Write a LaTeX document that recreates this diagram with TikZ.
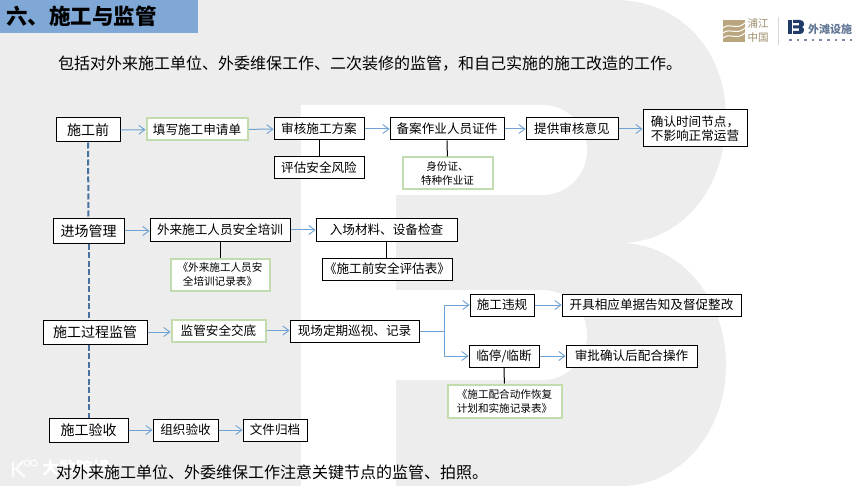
\documentclass[tikz,border=0pt]{standalone}
\usepackage{fontspec}
\setmainfont{Noto Sans CJK SC}
\usetikzlibrary{arrows.meta}
\definecolor{bggray}{HTML}{EDEDED}
\definecolor{titleblue}{HTML}{7FA8D6}
\definecolor{flowblue}{HTML}{6EA2D2}
\definecolor{spineblue}{HTML}{47729E}
\definecolor{softgreen}{HTML}{C3DCAE}
\definecolor{logotan}{HTML}{B9A67E}
\definecolor{logonavy}{HTML}{1F3C68}
\tikzset{
  x=1pt,y=-1pt,
  boxbase/.style={fill=white,inner sep=0pt,align=center,font=\fontsize{12.6pt}{14.5pt}\selectfont},
  plainbox/.style={boxbase,draw=black,line width=1pt},
  headbox/.style={plainbox,font=\fontsize{14pt}{16pt}\selectfont},
  greenbox/.style={boxbase,draw=softgreen,line width=2pt},
  notebox/.style={greenbox,font=\fontsize{10.6pt}{14pt}\selectfont},
  flow/.style={draw=flowblue,line width=1pt,-{Straight Barb[length=6pt,width=9pt,line width=.9pt]}},
  tie/.style={draw=black,line width=1pt},
  spine/.style={draw=spineblue,line width=2pt,dash pattern=on 6pt off 2.5pt},
  bodytext/.style={anchor=west,inner sep=0pt,font=\fontsize{16pt}{18pt}\selectfont}
}
\begin{document}
\begin{tikzpicture}
\useasboundingbox (0,0) rectangle (861,486);
% background B
\fill[white] (0,0) rectangle (861,486);
\fill[bggray] (0,0) -- (615,0) .. controls (680,0) and (726,50) .. (726,118)
  .. controls (726,190) and (680,243) .. (620,243)
  .. controls (680,243) and (726,298) .. (726,365)
  .. controls (726,432) and (680,486) .. (620,486) -- (0,486) -- cycle;
\fill[white] (301,105) -- (542,105) .. controls (567,105) and (587,125) .. (587,150)
  .. controls (587,175) and (567,195) .. (542,195) -- (396,195) -- (396,290)
  -- (542,290) .. controls (567,290) and (587,310) .. (587,335)
  .. controls (587,360) and (567,380) .. (542,380) -- (396,380) -- (396,486) -- (301,486) -- cycle;
% title
\fill[titleblue] (0,0) rectangle (198,33);
\node[anchor=west,inner sep=0pt,font=\fontsize{21.5pt}{24pt}\selectfont\bfseries] (title) at (6,16) {六、施工与监管};
% logo
\fill[logotan] (723,20) rectangle (745,42);
\foreach \d in {26,31,36}{
  \draw[white,line width=1pt] (723,\d+2) .. controls (730,\d-4) and (736,\d+5) .. (745,\d-3);
}
\node[inner sep=0pt,align=center,text=logotan!85!black,font=\fontsize{10.5pt}{14pt}\selectfont] (logoa) at (758,31) {浦江\\中国};
\draw[black!15,line width=1pt] (778,17) -- (778,45);
\fill[logonavy] (788,20) rectangle (791.5,34);
\fill[logonavy] (793,20) -- (800,20) .. controls (805,20) and (805,26.5) .. (802,27) .. controls (805,27.5) and (805,34) .. (800,34) -- (793,34) -- (793,31) -- (799,31) -- (799,28.5) -- (793,28.5) -- (793,25.5) -- (799,25.5) -- (799,23) -- (793,23) -- cycle;
\node[anchor=west,inner sep=0pt,text=logonavy!70,font=\fontsize{11pt}{12pt}\selectfont\bfseries] (logob) at (808,29) {外滩设施};
\foreach \i in {0,...,8}{\fill[logonavy!60] (789+\i*7.6,39) rectangle (791.5+\i*7.6,41.5);}
% texts
\node[bodytext] (intro) at (58,64) {包括对外来施工单位、外委维保工作、二次装修的监管，和自己实施的施工改造的工作。};
% watermark
\draw[white,line width=2.4pt,opacity=.85] (13,462) -- (13,477) (23,461) -- (16,469) -- (25,477);
\draw[white,line width=1.2pt,opacity=.85] (27,463) circle[radius=3] (34,463) circle[radius=3];
\node[anchor=west,inner sep=0pt,text=white,font=\fontsize{17pt}{18pt}\selectfont\bfseries] (mark) at (42,468) {大数跨境};
\node[bodytext] (closing) at (56,472) {对外来施工单位、外委维保工作注意关键节点的监管、拍照。};
% row 1
\node[headbox,minimum width=64pt,minimum height=24pt] (pre) at (88,130) {施工前};
\node[greenbox,minimum width=101pt,minimum height=22pt] (apply) at (197,129.5) {填写施工申请单};
\node[plainbox,minimum width=90pt,minimum height=22pt] (plan) at (319,129) {审核施工方案};
\node[plainbox,minimum width=114pt,minimum height=22pt] (file) at (447,129) {备案作业人员证件};
\node[plainbox,minimum width=92pt,minimum height=22pt] (opin) at (572,129) {提供审核意见};
\node[plainbox,minimum width=104pt,minimum height=37pt] (time) at (695,128.5) {确认时间节点，\\不影响正常运营};
\node[plainbox,minimum width=90pt,minimum height=22pt] (risk) at (319,168) {评估安全风险};
\node[notebox,minimum width=90pt,minimum height=32pt] (ids) at (447.5,173.5) {身份证、\\特种作业证};
% row 2
\node[headbox,minimum width=71pt,minimum height=24pt] (enter) at (88.5,231) {进场管理};
\node[plainbox,minimum width=140pt,minimum height=22pt] (train) at (220,230) {外来施工人员安全培训};
\node[plainbox,minimum width=141pt,minimum height=22pt] (matl) at (386.5,230) {入场材料、设备检查};
\node[notebox,minimum width=99pt,minimum height=32pt] (trec) at (220,274.5) {《外来施工人员安\\全培训记录表》};
\node[plainbox,minimum width=130pt,minimum height=22pt] (prer) at (387,269) {《施工前安全评估表》};
% row 3
\node[headbox,minimum width=104pt,minimum height=24pt] (proc) at (95,332) {施工过程监管};
\node[greenbox,minimum width=94pt,minimum height=22pt] (brief) at (218.5,330.5) {监管安全交底};
\node[plainbox,minimum width=129pt,minimum height=22pt] (patrol) at (354.5,331) {现场定期巡视、记录};
\node[plainbox,minimum width=64pt,minimum height=22pt] (viol) at (502,305) {施工违规};
\node[plainbox,minimum width=179pt,minimum height=22pt] (fix) at (651.5,305) {开具相应单据告知及督促整改};
\node[plainbox,minimum width=70pt,minimum height=22pt] (halt) at (504,356) {临停/临断};
\node[plainbox,minimum width=131pt,minimum height=22pt] (appr) at (631.5,356) {审批确认后配合操作};
\node[notebox,minimum width=114pt,minimum height=33pt] (hrec) at (504.5,401) {《施工配合动作恢复\\计划和实施记录表》};
% row 4
\node[headbox,minimum width=79pt,minimum height=24pt] (check) at (88.5,430) {施工验收};
\node[plainbox,minimum width=65pt,minimum height=22pt] (org) at (185.5,430) {组织验收};
\node[plainbox,minimum width=64pt,minimum height=22pt] (arch) at (275,430) {文件归档};
% spine
\draw[spine] (pre.south) -- (enter.north);
\draw[spine] (enter.south) -- (enter.south |- proc.north);
\draw[spine] (check.north |- proc.south) -- (check.north);
% flows
\draw[flow] (pre) -- (apply);
\draw[flow] (apply) -- (plan);
\draw[flow] (plan) -- (file);
\draw[flow] (file) -- (opin);
\draw[flow] (opin) -- (opin -| time.west);
\draw[flow] (enter) -- (enter -| train.west);
\draw[flow] (train) -- (matl);
\draw[flow] (proc) -- (proc -| brief.west);
\draw[flow] (brief) -- (brief -| patrol.west);
\draw[flow] (patrol.east) -- ++(25,0) |- (viol.west);
\draw[flow] (patrol.east) -- ++(25,0) |- (halt.west);
\draw[flow] (viol) -- (fix);
\draw[flow] (halt) -- (appr);
\draw[flow] (check) -- (org);
\draw[flow] (org) -- (arch);
% ties
\draw[tie] (plan) -- (risk);
\draw[tie] (file) -- (ids);
\draw[tie] (train) -- (trec);
\draw[tie] (matl.south) -- (matl.south |- prer.north);
\draw[tie] (halt) -- (hrec);
\end{tikzpicture}
\end{document}
